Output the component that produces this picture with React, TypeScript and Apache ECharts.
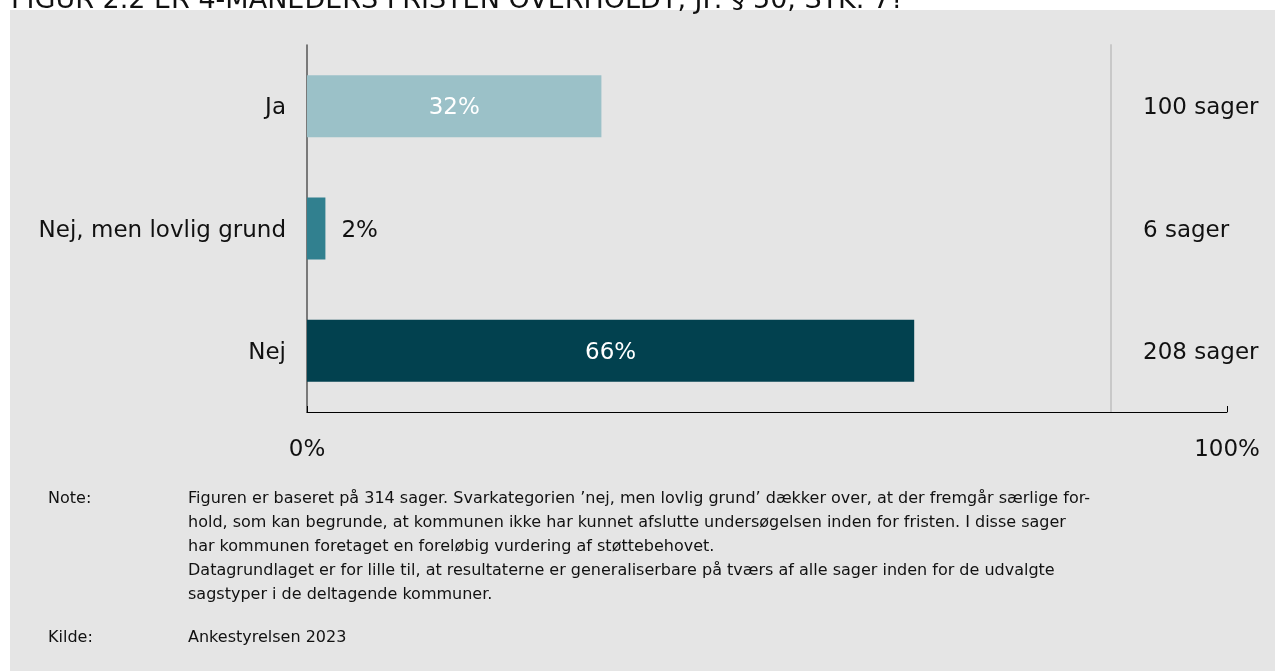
import React, { useEffect, useRef } from "react";
import * as echarts from "echarts";

const categories = ["Ja", "Nej, men lovlig grund", "Nej"];
const shares = [32, 2, 66];
const caseCounts = ["100 sager", "6 sager", "208 sager"];
const barColors = ["#9BC1C8", "#31808F", "#02414F"];
const labelInside = [true, false, true];
const xMin = 0;
const xMax = 100;
const titleText = "FIGUR 2.2 ER 4-MÅNEDERS FRISTEN OVERHOLDT, JF. § 50, STK. 7?";
const noteLabel = "Note:";
const noteLines = [
  "Figuren er baseret på 314 sager. Svarkategorien ’nej, men lovlig grund’ dækker over, at der fremgår særlige for-",
  "hold, som kan begrunde, at kommunen ikke har kunnet afslutte undersøgelsen inden for fristen. I disse sager",
  "har kommunen foretaget en foreløbig vurdering af støttebehovet.",
  "Datagrundlaget er for lille til, at resultaterne er generaliserbare på tværs af alle sager inden for de udvalgte",
  "sagstyper i de deltagende kommuner.",
];
const sourceLabel = "Kilde:";
const sourceText = "Ankestyrelsen 2023";

const FONT = "DejaVu Sans";

export default function App() {
  const ref = useRef<HTMLDivElement>(null);
  useEffect(() => {
    if (!ref.current) return;
    const chart = echarts.init(ref.current, null, { renderer: "svg" });
    const option: any = {
      animation: false,
      textStyle: { fontFamily: FONT },
      graphic: [
        {
          type: "rect",
          z: -10,
          silent: true,
          shape: { x: 10, y: 10, width: 1265, height: 661 },
          style: { fill: "#e5e5e5" },
        },
        {
          type: "text",
          x: 11,
          y: -2,
          style: {
            text: titleText,
            fontFamily: FONT,
            fontSize: 27,
            fill: "#111",
            verticalAlign: "middle",
          },
        },
        {
          type: "text",
          x: 48,
          y: 485,
          style: { text: noteLabel, fontFamily: FONT, fontSize: 16, fill: "#111", verticalAlign: "top", lineHeight: 24 },
        },
        {
          type: "text",
          x: 188,
          y: 485,
          style: {
            text: noteLines.join("\n"),
            fontFamily: FONT,
            fontSize: 16,
            fill: "#111",
            verticalAlign: "top",
            lineHeight: 24,
          },
        },
        {
          type: "text",
          x: 48,
          y: 624,
          style: { text: sourceLabel, fontFamily: FONT, fontSize: 16, fill: "#111", verticalAlign: "top", lineHeight: 24 },
        },
        {
          type: "text",
          x: 188,
          y: 624,
          style: { text: sourceText, fontFamily: FONT, fontSize: 16, fill: "#111", verticalAlign: "top", lineHeight: 24 },
        },
      ],
      grid: { left: 307, top: 45, width: 920, height: 367, containLabel: false },
      xAxis: {
        type: "value",
        min: xMin,
        max: xMax,
        interval: xMax - xMin,
        axisLine: { show: true, lineStyle: { color: "#000", width: 1 } },
        axisTick: { show: true, inside: true, length: 6, lineStyle: { color: "#000" } },
        splitLine: { show: false },
        axisLabel: {
          formatter: "{value}%",
          margin: 24,
          fontSize: 23,
          color: "#111",
          fontFamily: FONT,
        },
      },
      yAxis: [
        {
          type: "category",
          data: categories,
          inverse: true,
          axisLine: { show: true, lineStyle: { color: "#555", width: 1.5 } },
          axisTick: { show: false },
          axisLabel: { margin: 21, fontSize: 23, color: "#111", fontFamily: FONT },
        },
        {
          type: "category",
          data: caseCounts,
          inverse: true,
          position: "right",
          offset: -116,
          axisLine: { show: true, onZero: false, lineStyle: { color: "#c8c8c8", width: 2 } },
          axisTick: { show: false },
          axisLabel: { margin: 32, fontSize: 23, color: "#111", fontFamily: FONT },
        },
      ],
      series: [
        {
          type: "bar",
          yAxisIndex: 0,
          barWidth: 62,
          data: shares.map((v, i) => ({
            value: v,
            itemStyle: { color: barColors[i] },
            label: labelInside[i]
              ? { show: true, position: "inside", color: "#fff" }
              : { show: true, position: "right", distance: 16, color: "#111" },
          })),
          label: {
            show: true,
            formatter: "{c}%",
            fontSize: 23,
            fontFamily: FONT,
          },
        },
      ],
    };
    chart.setOption(option);
    return () => chart.dispose();
  }, []);
  return (
    <div
      ref={ref}
      style={{ position: "fixed", left: 0, top: 0, width: 1283, height: 671 }}
    />
  );
}
